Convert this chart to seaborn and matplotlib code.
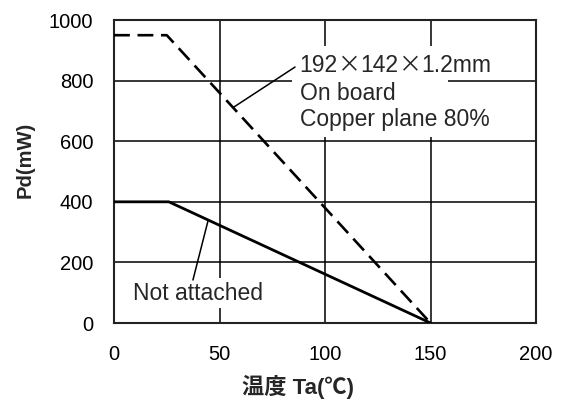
import matplotlib
matplotlib.use("Agg")
import matplotlib.pyplot as plt
from matplotlib.patches import Rectangle
import seaborn as sns
import pandas as pd

# Data
ta_board = [0, 25, 150]
pd_board = [950, 950, 0]
ta_free = [0, 26, 150]
pd_free = [400, 400, 0]
x_ticks = [0, 50, 100, 150, 200]
y_ticks = [0, 200, 400, 600, 800, 1000]
label_board = ["192", "\u00d7", "142", "\u00d7", "1.2mm"]
label_board2 = "On board"
label_board3 = "Copper plane 80%"
label_free = "Not attached"

sns.set_theme(style="white")
plt.rcParams['font.family'] = ['Liberation Sans', 'Noto Sans CJK JP', 'DejaVu Sans']

fig = plt.figure(figsize=(5.65, 4.01), dpi=100)
ax = fig.add_axes([0.2018, 0.1945, 0.9487 - 0.2018, 0.950 - 0.1945])

df_b = pd.DataFrame({"Ta": ta_board, "Pd": pd_board})
df_f = pd.DataFrame({"Ta": ta_free, "Pd": pd_free})
sns.lineplot(data=df_b, x="Ta", y="Pd", ax=ax, color="black", linewidth=1.9,
             linestyle=(0, (6, 2.9)), zorder=4)
sns.lineplot(data=df_f, x="Ta", y="Pd", ax=ax, color="black", linewidth=2.0, zorder=4)

ax.set_xlim(0, 200)
ax.set_ylim(0, 1000)
ax.set_xticks(x_ticks)
ax.set_yticks(y_ticks)
ax.grid(True, color="black", linewidth=1.1)
ax.set_axisbelow(True)
for s in ax.spines.values():
    s.set_color("#222222")
    s.set_linewidth(1.5)
ax.tick_params(axis="both", length=0, labelsize=14.5, colors="black")
ax.tick_params(axis="x", pad=16)
ax.tick_params(axis="y", pad=15)

ax.set_xlabel("温度 Ta(℃)", fontsize=16, fontweight="bold",
              family=['Liberation Sans', 'Noto Sans CJK JP', 'DejaVu Sans'])
ax.set_ylabel("Pd(mW)", fontsize=14.5, fontweight="bold")
ax.xaxis.set_label_coords(0.435, -0.172)
ax.yaxis.set_label_coords(-0.187, 0.538)

# White boxes behind annotation texts (mask grid lines)
ax.add_patch(Rectangle((84.4, 614), 73.9, 300, facecolor="white", edgecolor="none", zorder=2))
ax.add_patch(Rectangle((5, 50), 65, 98, facecolor="white", edgecolor="none", zorder=2))

fs = 16.5
# Leader for on-board curve
ax.plot([56.4, 85.8], [711, 845], color="black", linewidth=1.1, zorder=3)
prev = ax.text(88, 829, label_board[0], fontsize=fs, va="baseline", ha="left", zorder=5)
for piece in label_board[1:]:
    fam = ['Noto Sans CJK JP', 'DejaVu Sans'] if piece == "\u00d7" else ['Liberation Sans', 'DejaVu Sans']
    prev = ax.annotate(piece, xy=(1, 829), xycoords=(prev, "data"), fontsize=fs,
                       va="baseline", ha="left", family=fam, zorder=5)
ax.text(88, 736, label_board2, fontsize=fs, va="baseline", ha="left", zorder=5)
ax.text(88, 650, label_board3, fontsize=fs, va="baseline", ha="left", zorder=5)

# Leader for not-attached curve
ax.plot([44.5, 37.4], [336, 142], color="black", linewidth=1.1, zorder=3)
ax.text(9, 76, label_free, fontsize=fs, va="baseline", ha="left", zorder=5)

fig.savefig("out.png", dpi=100)
